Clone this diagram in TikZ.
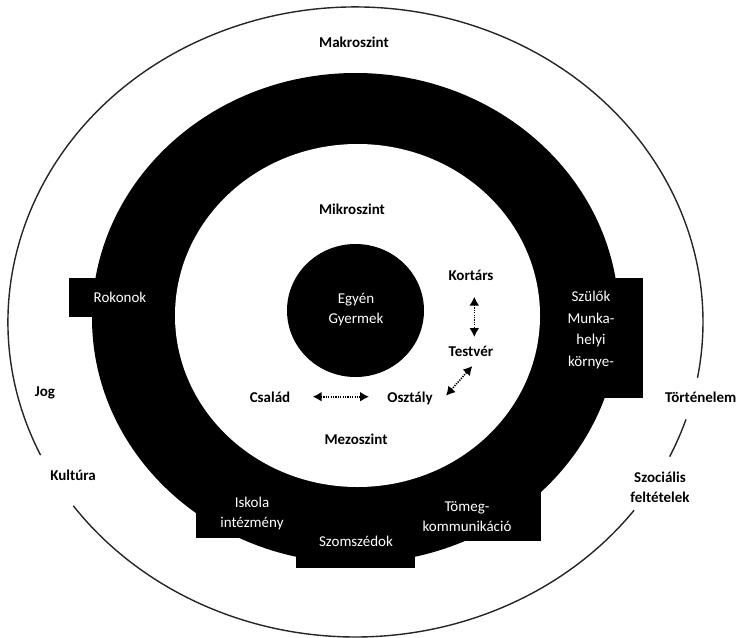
\documentclass[tikz,border=0pt]{standalone}
\usepackage{fontspec}
\setmainfont{Carlito}
\usetikzlibrary{arrows.meta}
\begin{document}
\begin{tikzpicture}[x=1pt,y=-1pt,
  dark/.style={font=\bfseries\fontsize{15}{20}\selectfont, text=black, inner sep=0pt, align=center},
  light/.style={font=\fontsize{15}{20}\selectfont, text=white, inner sep=0pt, align=center},
  rim/.style={line width=1.4pt, draw=black!85},
  link/.style={line width=1.6pt, dash pattern=on 1.2pt off 1.2pt,
    {Latex[length=9pt,width=10pt,sep=0pt]}-{Latex[length=9pt,width=10pt,sep=0pt]}}
]
\useasboundingbox (0,0) rectangle (740,638);
\fill[white] (0,0) rectangle (740,638);
% outer level (macro) circle, interrupted by labels
\draw[rim] (355.5,322) ++(155:347.5 and 315) arc[start angle=155,end angle=370.2,x radius=347.5,y radius=315];
\draw[rim] (355.5,322) ++(18:347.5 and 315) arc[start angle=18,end angle=25.3,x radius=347.5,y radius=315];
\draw[rim] (355.5,322) ++(36.7:347.5 and 315) arc[start angle=36.7,end angle=144.3,x radius=347.5,y radius=315];
% black ring with boxes
\fill (355.5,318) ellipse[x radius=263.5,y radius=245];
\fill (69,278) rectangle (150,317);
\fill (560,278) rectangle (643,398);
\fill (196,480) rectangle (300,538);
\fill (296,500) rectangle (415,568);
\fill (410,480) rectangle (541,541);
\fill[white] (357.5,315.5) ellipse[x radius=182.5,y radius=171.5];
\fill (355.5,310.5) ellipse[x radius=68.5,y radius=66.5];
% labels
\node[dark] (makro) at (354,42) {Makroszint};
\node[dark] (mikro) at (352,209) {Mikroszint};
\node[dark] (mezo) at (356,439) {Mezoszint};
\node[dark] (kortars) at (471,275) {Kortárs};
\node[dark] (testver) at (471,351) {Testvér};
\node[dark] (csalad) at (270,397) {Család};
\node[dark] (osztaly) at (410,398) {Osztály};
\node[dark] (jog) at (45,393) {Jog};
\node[dark] (kultura) at (73,475) {Kultúra};
\node[dark, anchor=west] (tortenelem) at (665,397) {Történelem};
\node[dark] (szocialis) at (660,487) {Szociális\\feltételek};
\node[light] (egyen) at (356,310) {Egyén\\Gyermek};
\node[light] (rokonok) at (120,297) {Rokonok};
\node[light, font=\fontsize{15}{21.7}\selectfont] (szulok) at (591,330) {Szülők\\Munka-\\helyi\\környe-};
\node[light] (iskola) at (252,513) {Iskola\\intézmény};
\node[light] (szomszedok) at (356,541) {Szomszédok};
\node[light] (tomeg) at (467,517) {Tömeg-\\kommunikáció};
% dotted double arrows
\coordinate (k1) at (474.3,296.7);
\coordinate (t1) at (474.3,337);
\coordinate (c1) at (312.7,396.7);
\coordinate (o1) at (369,396.7);
\coordinate (o2) at (446,395.7);
\coordinate (t2) at (472.3,366);
\draw[link] (k1) -- (t1);
\draw[link] (c1) -- (o1);
\draw[link] (o2) -- (t2);
\end{tikzpicture}
\end{document}
